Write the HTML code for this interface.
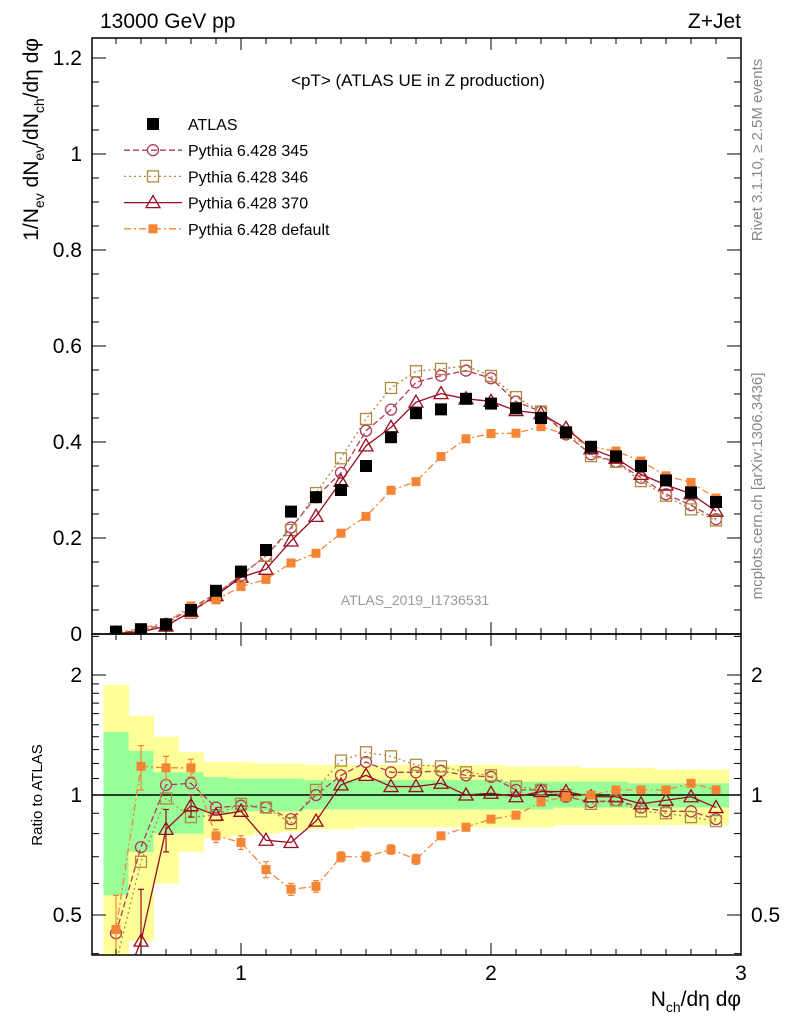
<!DOCTYPE html>
<html><head><meta charset="utf-8"><style>
body{margin:0;background:#fff;}
svg text{font-family:"Liberation Sans",Arial,sans-serif;}
</style></head><body>
<svg id="c" width="786" height="1024" xmlns="http://www.w3.org/2000/svg"></svg>
<script>
const xs=[0.5,0.6,0.7,0.8,0.9,1.0,1.1,1.2,1.3,1.4,1.5,1.6,1.7,1.8,1.9,2.0,2.1,2.2,2.3,2.4,2.5,2.6,2.7,2.8,2.9];
const atlas=[0.005,0.01,0.02,0.05,0.09,0.13,0.175,0.255,0.285,0.30,0.35,0.41,0.46,0.468,0.49,0.48,0.47,0.45,0.42,0.39,0.37,0.35,0.32,0.295,0.275];
const r345=[0.45,0.74,1.06,1.07,0.93,0.94,0.93,0.87,1.0,1.12,1.21,1.14,1.14,1.15,1.12,1.11,1.03,1.03,0.99,0.96,0.97,0.93,0.91,0.91,0.87];
const r346=[0.38,0.68,0.98,0.88,0.89,0.95,0.93,0.85,1.03,1.22,1.28,1.25,1.19,1.18,1.14,1.12,1.05,1.03,1.0,0.95,0.97,0.91,0.90,0.88,0.86];
const r370=[0.30,0.43,0.82,0.94,0.89,0.91,0.77,0.76,0.86,1.06,1.12,1.05,1.05,1.07,1.0,1.01,0.99,1.02,1.02,0.99,0.99,0.95,0.97,0.99,0.93];
const rdef=[0.46,1.18,1.17,1.17,0.79,0.76,0.65,0.58,0.59,0.70,0.70,0.73,0.69,0.79,0.83,0.87,0.89,0.96,0.99,1.0,1.03,1.03,1.03,1.07,1.03];
const errDef=[0.1,0.15,0.08,0.06,0.03,0.03,0.03,0.02,0.02,0.02,0.02,0.02,0.02,0,0,0,0,0,0,0,0,0,0,0,0];
const err370=[0,0.15,0.1,0.06,0,0,0,0,0,0,0,0,0,0,0,0,0,0,0,0,0,0,0,0,0];
const yellowHi=[1.89,1.58,1.40,1.28,1.21,1.21,1.20,1.20,1.19,1.19,1.19,1.19,1.19,1.19,1.19,1.19,1.18,1.18,1.18,1.17,1.17,1.17,1.16,1.16,1.16];
const yellowLo=[0.38,0.43,0.60,0.72,0.78,0.79,0.80,0.81,0.82,0.82,0.83,0.83,0.83,0.83,0.83,0.83,0.83,0.83,0.84,0.84,0.84,0.84,0.84,0.84,0.84];
const greenHi=[1.44,1.29,1.14,1.14,1.11,1.10,1.10,1.10,1.09,1.09,1.09,1.09,1.09,1.09,1.09,1.09,1.08,1.08,1.08,1.08,1.08,1.07,1.07,1.07,1.07];
const greenLo=[0.56,0.72,0.80,0.80,0.90,0.91,0.91,0.91,0.92,0.92,0.92,0.92,0.92,0.92,0.92,0.92,0.92,0.92,0.93,0.93,0.93,0.93,0.93,0.93,0.93];
const yTicks=[0,0.2,0.4,0.6,0.8,1,1.2];
const xTicks=[1,2,3];
const rTicks=[0.5,1,2];

const S=document.getElementById('c'),NS='http://www.w3.org/2000/svg';
function el(t,a,p){const e=document.createElementNS(NS,t);for(const k in a)e.setAttribute(k,a[k]);(p||S).appendChild(e);return e;}
const L=92,R=741,T=38,MB=634,RB=955;
const X=v=>241+(v-1)*250;
const Y=v=>634-v*480;
const RY=v=>795-Math.log2(v)*120;
const clipR=el('clipPath',{id:'cr'});el('rect',{x:L,y:MB,width:R-L,height:RB-MB},clipR);
const clipM=el('clipPath',{id:'cm'});el('rect',{x:L,y:T,width:R-L,height:MB-T},clipM);
const gb=el('g',{'clip-path':'url(#cr)'});
xs.forEach((x,i)=>{
 const y=el('rect',{x:X(x-0.05),y:RY(yellowHi[i]),width:250*0.1+0.5,height:RY(yellowLo[i])-RY(yellowHi[i]),fill:'#ffff99'},gb);
 
 
 const g=el('rect',{x:X(x-0.05),y:RY(greenHi[i]),width:250*0.1+0.5,height:RY(greenLo[i])-RY(greenHi[i]),fill:'#99ff99'},gb);
 
 
});
el('line',{x1:L,x2:R,y1:RY(1),y2:RY(1),stroke:'#000','stroke-width':1.5});
const series=[
 {n:'pythia-345',r:r345,c:'#b03a5a',d:'6,3',m:'circle',e:null},
 {n:'pythia-346',r:r346,c:'#b08a40',d:'2,3',m:'square',e:null},
 {n:'pythia-370',r:r370,c:'#9a0a20',d:'',m:'tri',e:err370},
 {n:'pythia-default',r:rdef,c:'#f58535',d:'7,3,2,3',m:'fsquare',e:errDef}];
function marker(g,m,x,y,c){
 if(m==='circle')return el('circle',{cx:x,cy:y,r:5.5,fill:'none',stroke:c,'stroke-width':1.3},g);
 if(m==='square')return el('rect',{x:x-5.5,y:y-5.5,width:11,height:11,fill:'none',stroke:c,'stroke-width':1.3},g);
 if(m==='tri')return el('path',{d:`M${x},${y-7}L${x+7},${y+5}L${x-7},${y+5}Z`,fill:'none',stroke:c,'stroke-width':1.3},g);
 if(m==='fsquare')return el('rect',{x:x-4.5,y:y-4.5,width:9,height:9,fill:c},g);
 return el('rect',{x:x-6,y:y-6,width:12,height:12,fill:c},g);
}
series.forEach(s=>{
 const gm=el('g',{'clip-path':'url(#cm)'}),gr=el('g',{'clip-path':'url(#cr)'});
 
 
 const vals=s.r.map((r,i)=>r*atlas[i]);
 el('polyline',{points:xs.map((x,i)=>X(x)+','+Y(vals[i])).join(' '),fill:'none',stroke:s.c,'stroke-width':1.3,'stroke-dasharray':s.d},gm);
 el('polyline',{points:xs.map((x,i)=>X(x)+','+RY(s.r[i])).join(' '),fill:'none',stroke:s.c,'stroke-width':1.3,'stroke-dasharray':s.d},gr);
 xs.forEach((x,i)=>{
  const a=marker(gm,s.m,X(x),Y(vals[i]),s.c);
  
  const b=marker(gr,s.m,X(x),RY(s.r[i]),s.c);
  
  if(s.e&&s.e[i]>0){const y1=RY(s.r[i]+s.e[i]),y2=RY(Math.max(0.05,s.r[i]-s.e[i]));
   el('line',{x1:X(x),x2:X(x),y1:y1,y2:y2,stroke:s.c,'stroke-width':1.2},gr);
   el('line',{x1:X(x)-3,x2:X(x)+3,y1:y1,y2:y1,stroke:s.c,'stroke-width':1.2},gr);
   el('line',{x1:X(x)-3,x2:X(x)+3,y1:y2,y2:y2,stroke:s.c,'stroke-width':1.2},gr);}
 });
});
const ga=el('g',{'clip-path':'url(#cm)'});

xs.forEach((x,i)=>{const p=el('rect',{x:X(x)-6,y:Y(atlas[i])-6,width:12,height:12,fill:'#000'},ga);
 });
el('rect',{x:L,y:T,width:R-L,height:MB-T,fill:'none',stroke:'#000','stroke-width':1.5,});
el('rect',{x:L,y:MB,width:R-L,height:RB-MB,fill:'none',stroke:'#000','stroke-width':1.5,});
for(let v=0.5;v<=3.001;v+=0.1){const big=Math.abs(v-Math.round(v))<1e-6;const l=big?12:6;const x=X(v);if(x<L)continue;
 [[MB,MB-l],[T,T+l],[RB,RB-l],[MB,MB+l]].forEach(p=>el('line',{x1:x,x2:x,y1:p[0],y2:p[1],stroke:'#000'}));}
xTicks.forEach(v=>{const t=el('text',{x:X(v),y:RB+25,'text-anchor':'middle','font-size':21});t.textContent=v;
 });
for(let v=0;v<=1.24;v+=0.05){const big=Math.abs(v/0.2-Math.round(v/0.2))<1e-6;const l=big?14:7;
 el('line',{x1:L,x2:L+l,y1:Y(v),y2:Y(v),stroke:'#000'});el('line',{x1:R,x2:R-l,y1:Y(v),y2:Y(v),stroke:'#000'});}
yTicks.forEach(v=>{const t=el('text',{x:L-10,y:Y(v)+7,'text-anchor':'end','font-size':21});t.textContent=v;
 });
[0.4,0.5,0.6,0.7,0.8,0.9,1,2].concat([1.1,1.2,1.3,1.4,1.5,1.6,1.7,1.8,1.9,2.5,3,3.5,4,4.5,5,5.5]).forEach(v=>{const y=RY(v);if(y<MB||y>RB)return;
 const l=rTicks.includes(v)?14:7;el('line',{x1:L,x2:L+l,y1:y,y2:y,stroke:'#000'});el('line',{x1:R,x2:R-l,y1:y,y2:y,stroke:'#000'});});
rTicks.forEach(v=>{[[L-10,'end'],[R+10,'start']].forEach(p=>{const t=el('text',{x:p[0],y:RY(v)+7,'text-anchor':p[1],'font-size':21});t.textContent=v;
 });});
const leg=[['ATLAS','#000','','atlas'],['Pythia 6.428 345',series[0].c,series[0].d,'circle'],['Pythia 6.428 346',series[1].c,series[1].d,'square'],['Pythia 6.428 370',series[2].c,'','tri'],['Pythia 6.428 default',series[3].c,series[3].d,'fsquare']];
leg.forEach((e,i)=>{const y=124+i*26.2;const g=el('g',{});
 
 if(i>0)el('line',{x1:124,x2:182,y1:y,y2:y,stroke:e[1],'stroke-width':1.3,'stroke-dasharray':e[2]},g);
 marker(g,e[3],153,y,e[1]);
 const t=el('text',{x:188,y:y+6,'font-size':16},g);t.textContent=e[0];});
function txt(s,a,n){const t=el('text',a);t.textContent=s;return t;}
txt('13000 GeV pp',{x:100,y:28,'font-size':21},'beam-label');
txt('Z+Jet',{x:741,y:28,'font-size':21,'text-anchor':'end'},'process-label');
txt('<pT> (ATLAS UE in Z production)',{x:418,y:86,'font-size':17,'text-anchor':'middle'},'plot-title');
txt('ATLAS_2019_I1736531',{x:415,y:605,'font-size':14,'text-anchor':'middle',fill:'#999'},'analysis-id');
txt('Rivet 3.1.10, ≥ 2.5M events',{x:0,y:0,'font-size':15,fill:'#888','text-anchor':'middle',transform:'translate(762,150) rotate(-90)'},'rivet-label');
txt('mcplots.cern.ch [arXiv:1306.3436]',{x:0,y:0,'font-size':15,fill:'#888','text-anchor':'middle',transform:'translate(762,486) rotate(-90)'},'mcplots-label');
txt('Ratio to ATLAS',{x:0,y:0,'font-size':15,'text-anchor':'middle',transform:'translate(42,795) rotate(-90)'},'ratio-axis-title');
const yt=txt('',{x:0,y:0,'font-size':21,'text-anchor':'end',transform:'translate(38,38) rotate(-90)'},'y-axis-title');
yt.innerHTML='1/N<tspan font-size="14" dy="6">ev</tspan><tspan dy="-6"> dN</tspan><tspan font-size="14" dy="6">ev</tspan><tspan dy="-6">/dN</tspan><tspan font-size="14" dy="6">ch</tspan><tspan dy="-6">/dη dφ</tspan>';
const xt=txt('',{x:741,y:1006,'font-size':21,'text-anchor':'end'},'x-axis-title');
xt.innerHTML='N<tspan font-size="14" dy="6">ch</tspan><tspan dy="-6">/dη dφ</tspan>';
</script>
</body></html>
